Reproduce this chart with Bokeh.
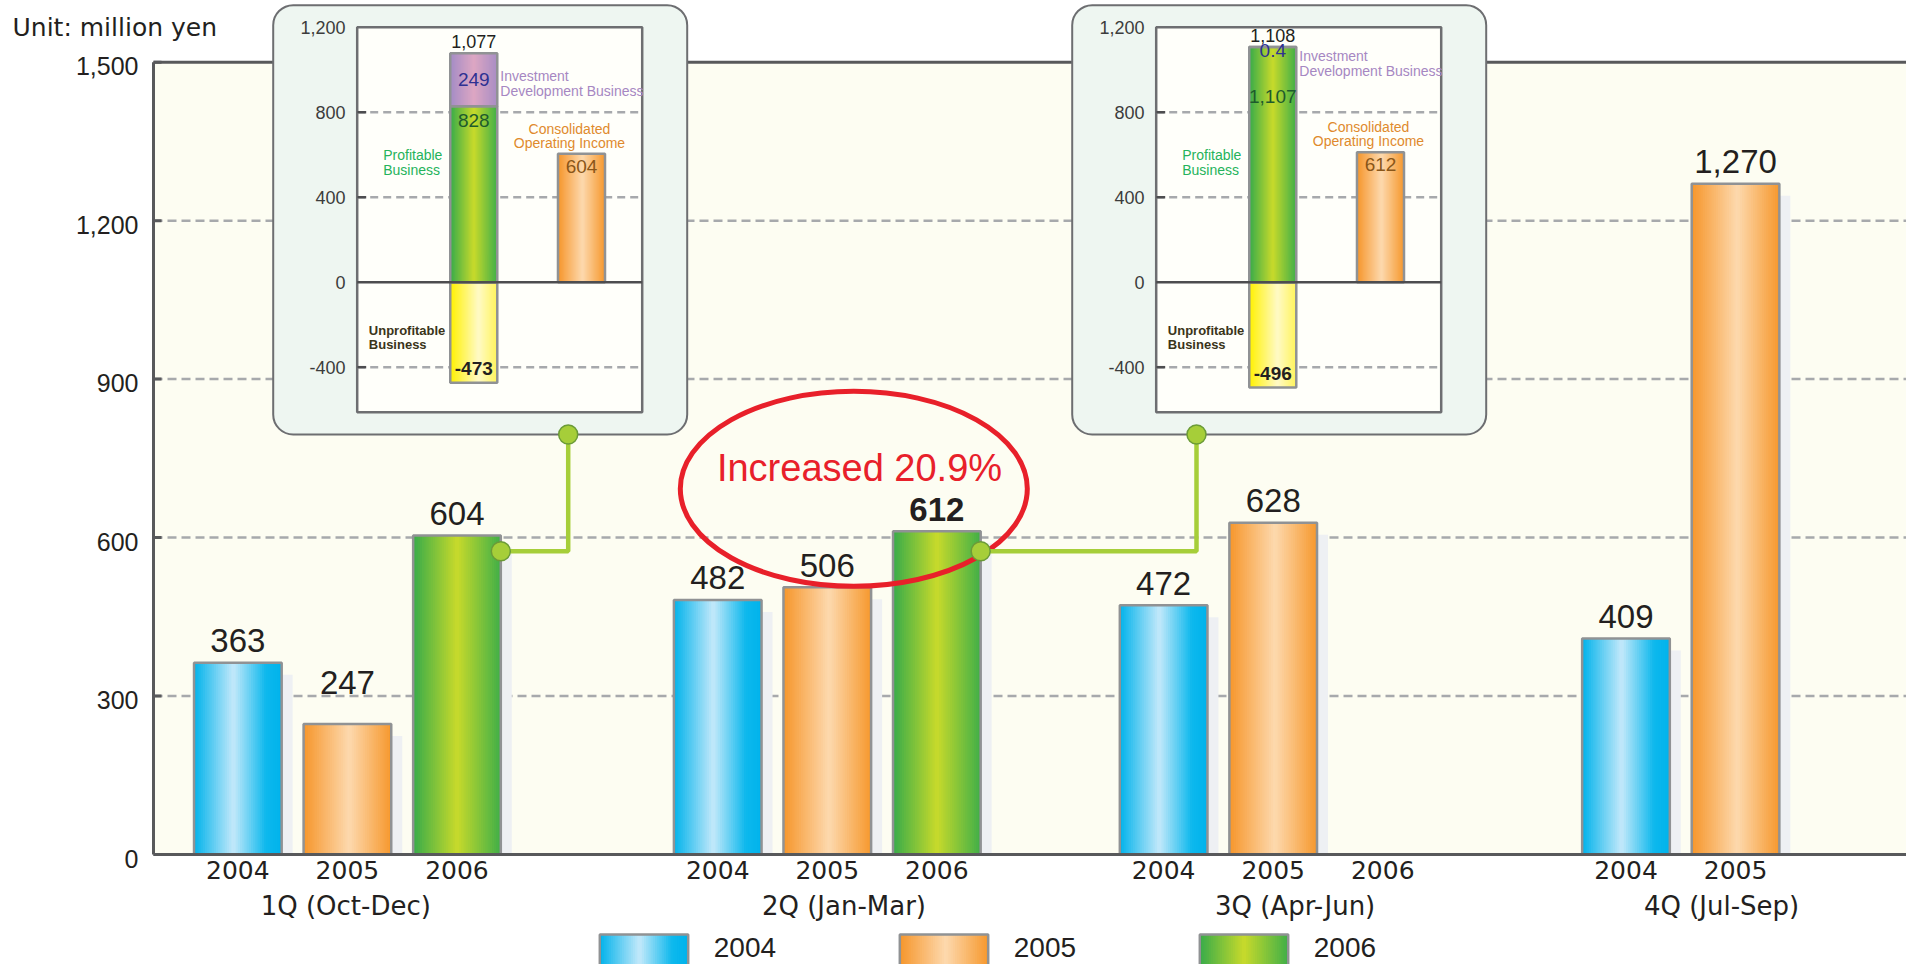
import numpy as np
from bokeh.plotting import figure
from bokeh.models import Range1d, FixedTicker, LinearAxis, Quad
from bokeh.layouts import column
from bokeh.embed import file_html
from bokeh.resources import INLINE
from bokeh.core.properties import value

# ---------------- data ----------------
YEARS = ["2004", "2005", "2006"]
QUARTERS = ["1Q   (Oct-Dec)", "2Q  (Jan-Mar)", "3Q (Apr-Jun)", "4Q  (Jul-Sep)"]
INCOME_2004 = [363, 482, 472, 409]
INCOME_2005 = [247, 506, 628, 1270]
INCOME_2006 = [604, 612, None, None]
YEARS_SHOWN = [3, 3, 3, 2]          # year slots labelled under each quarter
Y_TICKS = [0, 300, 600, 900, 1200, 1500]
UNIT_LABEL = "Unit:  million yen"
GROWTH_NOTE = "Increased 20.9%"
HIGHLIGHT = (1, 2)                  # (quarter, year) whose value is set in bold

# operating income breakdown for 1Q and 2Q of 2006
PROFITABLE = [828, 1107]
INVESTMENT = [249, 0.4]
UNPROFITABLE = [-473, -496]
TOTAL_PROFIT = [1077, 1108]
CONSOLIDATED = [604, 612]
BREAKDOWN_TICKS = [1200, 800, 400, 0, -400]

# ---------------- layout ----------------
W, H_MAIN, H_LEG = 1906, 922, 42
LEFT, ZERO_PX, TOP_PX = 153, 854, 61.7
BELOW_ZERO_PX = 16                  # room under the zero line for the "0" tick label
FRAME_H = ZERO_PX + BELOW_ZERO_PX
YMAX = 1500
PX_PER_VAL = (ZERO_PX - TOP_PX) / YMAX
PX_PER_SLOT = 109.56
X_START = -LEFT / PX_PER_SLOT
X_END = (W - LEFT) / PX_PER_SLOT
Y_START = -BELOW_ZERO_PX / PX_PER_VAL
Y_END = ZERO_PX / PX_PER_VAL
GROUP_START = [0.77, 5.15, 9.22, 13.44]
QUARTER_LABEL_X = [1.83, 6.34, 10.42, 14.35]
LABEL_LIFT = {(0, 1): 20}           # extra lift (px) for a value label
BAR_W = 0.8
SH_DX = 11 / PX_PER_SLOT
SH_DY = 12 / PX_PER_VAL

FONT = "Liberation Sans"
WIDE_FONT = "DejaVu Sans"
INK = "#231F20"
AXIS_GRAY = "#58595B"
EDGE_GRAY = "#909294"
GRID_GRAY = "#A7A9AC"

BLUE = [(0, "#00B2EB"), (0.45, "#C3E9FA"), (0.82, "#0DB8ED"), (1, "#00B3EC")]
ORANGE = [(0, "#F6962B"), (0.52, "#FDD9AE"), (1, "#F6982D")]
GREEN = [(0, "#37AB4A"), (0.5, "#C8DA2B"), (1, "#40AF48")]
YELLOW = [(0, "#FFF100"), (0.6, "#FFFAC6"), (1, "#FFF45A")]
PURPLE = [(0, "#A48CC6"), (0.5, "#DDA7C3"), (1, "#A88DC4")]
SERIES_STOPS = [BLUE, ORANGE, GREEN]


def blend(stops, t):
    for (p0, c0), (p1, c1) in zip(stops[:-1], stops[1:]):
        if p0 <= t <= p1:
            f = (t - p0) / (p1 - p0) if p1 > p0 else 0.0
            a = [int(c0[i:i + 2], 16) for i in (1, 3, 5)]
            b = [int(c1[i:i + 2], 16) for i in (1, 3, 5)]
            return "#%02x%02x%02x" % tuple(round(a[k] + (b[k] - a[k]) * f) for k in range(3))
    return stops[-1][1]


def strips(centers, bottoms, tops, width, stops, n=40):
    """Split each bar into thin vertical strips to shade it like a cylinder."""
    out = dict(x=[], w=[], bottom=[], top=[], color=[])
    for c, b, t in zip(centers, bottoms, tops):
        for k in range(n):
            left = c - width / 2 + k * width / n
            right = min(left + width / n * 1.8, c + width / 2)
            out["x"].append((left + right) / 2)
            out["w"].append(right - left)
            out["bottom"].append(b)
            out["top"].append(t)
            out["color"].append(blend(stops, (k + 0.5) / n))
    return out


def shaded_bars(fig, centers, bottoms, tops, width, stops, **kw):
    d = strips(centers, bottoms, tops, width, stops)
    fig.vbar(x=d["x"], width=d["w"], bottom=d["bottom"], top=d["top"],
             fill_color=d["color"], line_color=None, **kw)
    fig.vbar(x=list(centers), width=width, bottom=list(bottoms), top=list(tops),
             fill_color=None, line_color=EDGE_GRAY, line_width=2.5, **kw)


# ---------------- main chart ----------------
p = figure(frame_width=W, frame_height=FRAME_H, x_range=Range1d(X_START, X_END),
           y_range=Range1d(Y_START, Y_END), output_backend="svg", toolbar_location=None,
           y_axis_location=None, min_border_left=0, min_border_right=0, min_border_top=0,
           min_border_bottom=H_MAIN - FRAME_H)
p.background_fill_color = "white"
p.border_fill_color = "white"
p.outline_line_color = None
for g in p.grid:
    g.visible = False

# year labels under each bar slot (the rule itself is drawn at zero below)
year_ticks, year_names = [], {}
for q in range(len(QUARTERS)):
    for j in range(YEARS_SHOWN[q]):
        t = round(GROUP_START[q] + j, 2)
        year_ticks.append(t)
        year_names[t] = YEARS[j]
xax = p.xaxis[0]
xax.ticker = FixedTicker(ticks=year_ticks)
xax.major_label_overrides = year_names
xax.axis_line_color = None
xax.major_tick_line_color = None
xax.minor_tick_line_color = None
xax.major_label_standoff = -BELOW_ZERO_PX
xax.major_label_text_font = WIDE_FONT
xax.major_label_text_font_size = "25px"
xax.major_label_text_color = INK

# quarter names below the years
qax = LinearAxis(ticker=FixedTicker(ticks=QUARTER_LABEL_X),
                 major_label_overrides={x: n for x, n in zip(QUARTER_LABEL_X, QUARTERS)},
                 axis_line_color=None, major_tick_line_color=None, minor_tick_line_color=None,
                 major_label_standoff=3, major_label_text_font=WIDE_FONT,
                 major_label_text_font_size="26px", major_label_text_color=INK)
p.add_layout(qax, "below")

# value axis: plot area, dashed grid, axis lines, ticks and labels
p.quad(left=0, right=X_END, bottom=0, top=YMAX, fill_color="#FDFDF2", line_color=None)
inner = [t for t in Y_TICKS if 0 < t < YMAX]
p.segment(x0=0, x1=X_END, y0=inner, y1=inner, line_color=GRID_GRAY, line_width=2.5,
          line_dash="9 5")

series = [INCOME_2004, INCOME_2005, INCOME_2006]
for j, vals in enumerate(series):
    xs = [GROUP_START[q] + j for q, v in enumerate(vals) if v is not None]
    vs = [v for v in vals if v is not None]
    p.quad(left=[x - BAR_W / 2 + SH_DX for x in xs], right=[x + BAR_W / 2 + SH_DX for x in xs],
           bottom=0, top=[v - SH_DY for v in vs], fill_color="#EEF0F3", line_color=None)
for j, vals in enumerate(series):
    xs = [GROUP_START[q] + j for q, v in enumerate(vals) if v is not None]
    vs = [v for v in vals if v is not None]
    shaded_bars(p, xs, [0] * len(vs), vs, BAR_W, SERIES_STOPS[j])
    for q, v in enumerate(vals):
        if v is None:
            continue
        bold = (q, j) == HIGHLIGHT
        p.text(x=GROUP_START[q] + j, y=v, text=[f"{v:,}"], text_align="center",
               text_baseline="middle", y_offset=-22 - LABEL_LIFT.get((q, j), 0),
               text_font=value(FONT), text_font_size="33px", text_color=INK,
               text_font_style="bold" if bold else "normal")

p.segment(x0=0, x1=X_END, y0=YMAX, y1=YMAX, line_color=AXIS_GRAY, line_width=3)
p.segment(x0=0, x1=X_END, y0=0, y1=0, line_color=AXIS_GRAY, line_width=3)
p.segment(x0=0, x1=0, y0=0, y1=YMAX, line_color=AXIS_GRAY, line_width=3)
p.segment(x0=0, x1=8 / PX_PER_SLOT, y0=Y_TICKS, y1=Y_TICKS, line_color=AXIS_GRAY,
          line_width=3)
p.text(x=-15 / PX_PER_SLOT, y=Y_TICKS, text=[f"{t:,}" for t in Y_TICKS], text_align="right",
       text_baseline="middle", y_offset=4, text_font=value(FONT), text_font_size="25px",
       text_color=INK)
p.text(x=(12 - LEFT) / PX_PER_SLOT, y=(ZERO_PX - 26.7) / PX_PER_VAL, text=[UNIT_LABEL],
       text_align="left", text_baseline="middle", text_font=value(WIDE_FONT),
       text_font_size="25px", text_color=INK)

# growth call-out
p.ellipse(x=6.392, y=(ZERO_PX - 488.3) / PX_PER_VAL, width=347 / PX_PER_SLOT,
          height=195 / PX_PER_VAL, fill_color=None, line_color="#E8202A", line_width=5)
p.text(x=(859 - LEFT) / PX_PER_SLOT, y=(ZERO_PX - 467) / PX_PER_VAL, text=[GROWTH_NOTE],
       text_align="center", text_baseline="middle", text_font=value(FONT),
       text_font_size="38px", text_color="#E8202A")

# ---------------- breakdown panels ----------------
BD_PX_PER_VAL = 85 / 400
BD_ZERO_PX = 281.7
BD_W_PX = 285
BD_LEFT_PX = [356.7, 1155.7]
INVEST_NOTE_PX = [83, 63]          # vertical centre of the investment note
PROFIT_LABEL_DROP = [14, 50]       # profitable value sits this far below the segment top
p.extra_y_ranges = {"bd": Range1d((BD_ZERO_PX - FRAME_H) / BD_PX_PER_VAL,
                                  BD_ZERO_PX / BD_PX_PER_VAL)}
p.extra_x_ranges = {f"bd{i}": Range1d(-lp / BD_W_PX, (W - lp) / BD_W_PX)
                    for i, lp in enumerate(BD_LEFT_PX)}
ROUND = {"border_radius": 20} if "border_radius" in Quad.properties() else {}
BC, OC, BW = 0.409, 0.787, 0.165
bd_top = 1200


def px_to_bd(px):
    return (BD_ZERO_PX - px) / BD_PX_PER_VAL


bd_bottom = px_to_bd(411.7)

for i in range(len(PROFITABLE)):
    kw = dict(x_range_name=f"bd{i}", y_range_name="bd")
    p.quad(left=-84 / BD_W_PX, right=330 / BD_W_PX, bottom=px_to_bd(434), top=px_to_bd(4.7),
           fill_color="#EEF6F1", line_color="#6D6E71", line_width=2, **ROUND, **kw)
    p.quad(left=0, right=1, bottom=bd_bottom, top=bd_top, fill_color="#FFFFFA",
           line_color="#6D6E71", line_width=2.5, **kw)
    grid = [t for t in BREAKDOWN_TICKS if t not in (0, bd_top)]
    p.segment(x0=0, x1=1, y0=grid, y1=grid, line_color=GRID_GRAY, line_width=2.5,
              line_dash="8 5", **kw)
    p.segment(x0=0, x1=9 / BD_W_PX, y0=grid, y1=grid, line_color="#4D4D4F", line_width=2.5, **kw)
    p.text(x=-11.7 / BD_W_PX, y=BREAKDOWN_TICKS, text=[f"{t:,}" for t in BREAKDOWN_TICKS],
           text_align="right", text_baseline="middle", text_font=value(FONT),
           text_font_size="18px", text_color="#3C3C3C", **kw)

    prof, inv, unp = PROFITABLE[i], INVESTMENT[i], UNPROFITABLE[i]
    shaded_bars(p, [BC], [unp], [0], BW, YELLOW, **kw)
    shaded_bars(p, [BC], [0], [prof], BW, GREEN, **kw)
    shaded_bars(p, [BC], [prof], [prof + inv], BW, PURPLE, **kw)
    shaded_bars(p, [OC], [0], [CONSOLIDATED[i]], BW, ORANGE, **kw)
    p.segment(x0=0, x1=1, y0=0, y1=0, line_color="#4D4D4F", line_width=2.5, **kw)

    p.text(x=BC, y=prof + inv, text=[f"{TOTAL_PROFIT[i]:,}"], text_align="center",
           text_baseline="middle", y_offset=-11.5, text_font=value(FONT),
           text_font_size="18px", text_color=INK, **kw)
    p.text(x=BC, y=prof + inv / 2, text=[f"{inv:g}"], text_align="center",
           text_baseline="middle", y_offset=4 if inv < 50 else 0, text_font=value(FONT),
           text_font_size="19px", text_color="#2E3192", **kw)
    p.text(x=BC, y=prof, text=[f"{prof:,}"], text_align="center", text_baseline="middle",
           y_offset=PROFIT_LABEL_DROP[i], text_font=value(FONT), text_font_size="19px",
           text_color="#1E5B2C", **kw)
    p.text(x=BC, y=unp, text=[f"{unp:,}"], text_align="center", text_baseline="middle",
           y_offset=-14, text_font=value(FONT), text_font_size="19px",
           text_font_style="bold", text_color=INK, **kw)
    p.text(x=OC, y=CONSOLIDATED[i], text=[f"{CONSOLIDATED[i]:,}"], text_align="center",
           text_baseline="middle", y_offset=12.5, text_font=value(FONT), text_font_size="19px",
           text_color="#8A5618", **kw)

    p.text(x=BC + BW / 2 + 3 / BD_W_PX, y=px_to_bd(INVEST_NOTE_PX[i]),
           text=["Investment\nDevelopment Business"], text_align="left", text_baseline="middle",
           text_line_height=0.9, text_font=value(FONT), text_font_size="14px",
           text_color="#A687C2", **kw)
    p.text(x=26 / BD_W_PX, y=px_to_bd(162), text=["Profitable\nBusiness"], text_align="left",
           text_baseline="middle", text_line_height=0.9, text_font=value(FONT),
           text_font_size="14px", text_color="#25B35B", **kw)
    p.text(x=OC - 12 / BD_W_PX, y=CONSOLIDATED[i], text=["Consolidated\nOperating Income"],
           text_align="center", text_baseline="middle", y_offset=-18, text_line_height=0.9,
           text_font=value(FONT), text_font_size="14px", text_color="#E08A2D", **kw)
    p.text(x=11.6 / BD_W_PX, y=px_to_bd(337), text=["Unprofitable\nBusiness"],
           text_align="left", text_baseline="middle", text_line_height=0.9,
           text_font=value(FONT), text_font_size="13px", text_font_style="bold",
           text_color="#3A3419", **kw)

# connectors from the 2006 bars up to their breakdown panels
elbow_y = (ZERO_PX - 550.7) / PX_PER_VAL
panel_y = (ZERO_PX - 434) / PX_PER_VAL
panel_x = [(567.7 - LEFT) / PX_PER_SLOT, (1196 - LEFT) / PX_PER_SLOT]
for q, px_ in zip([0, 1], panel_x):
    edge = GROUP_START[q] + 2 + BAR_W / 2
    p.line(x=[edge, px_, px_], y=[elbow_y, elbow_y, panel_y], line_color="#A6CE39",
           line_width=4.5)
    p.scatter(x=[edge, px_], y=[elbow_y, panel_y], size=19, fill_color="#A6CE39",
              line_color="#6B9B37", line_width=1.5)

# ---------------- legend row ----------------
leg = figure(width=W, height=H_LEG, x_range=Range1d(0, W),
             y_range=Range1d(H_MAIN + H_LEG, H_MAIN), output_backend="svg",
             toolbar_location=None, x_axis_location=None, y_axis_location=None,
             min_border=0, min_border_left=0, min_border_right=0,
             min_border_top=0, min_border_bottom=0)
leg.outline_line_color = None
leg.background_fill_color = "white"
leg.border_fill_color = "white"
for g in leg.grid:
    g.visible = False
LEG_X0, LEG_STEP, SW_W = 599.3, 300, 88.4
for j, name in enumerate(YEARS):
    x0 = LEG_X0 + j * LEG_STEP
    shaded_bars(leg, [x0 + SW_W / 2], [972], [933], SW_W, SERIES_STOPS[j])
    leg.text(x=x0 + 114, y=945.5, text=[name], text_align="left", text_baseline="middle",
             text_font=value(FONT), text_font_size="28px", text_color=INK)

page = column(p, leg, spacing=0)
open("out.html", "w").write(file_html(page, INLINE))
